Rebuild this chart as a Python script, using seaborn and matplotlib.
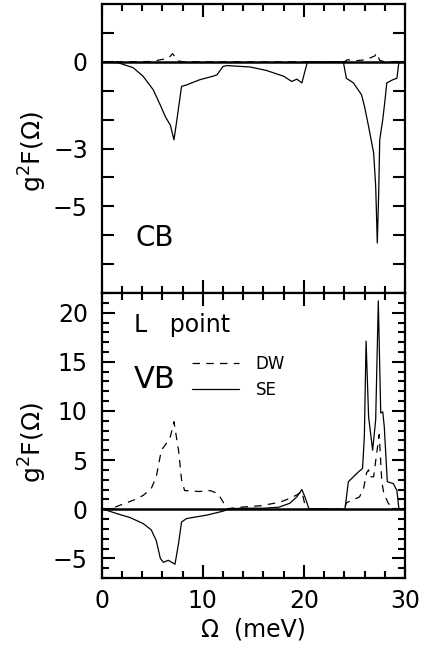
import matplotlib
matplotlib.use("Agg")
import matplotlib.pyplot as plt
import seaborn as sns
from matplotlib.ticker import MultipleLocator, FixedLocator
from matplotlib.lines import Line2D

# ---------------- data ----------------
cb_se_x = [0, 1.6, 3.1, 4.1, 5.1, 5.8, 6.3, 6.8, 7.15, 7.4, 7.9, 8.4, 9.7, 11.0, 11.4, 12.0, 12.4,
           14.7, 16.3, 18.0, 18.8, 19.3, 19.8, 20.1, 20.35, 23.9, 24.2, 24.9, 25.7, 26.0, 26.4,
           26.9, 27.1, 27.26, 27.4, 27.5, 27.8, 28.0, 28.2, 28.8, 29.2, 29.4, 30]
cb_se_y = [0, -0.03, -0.2, -0.5, -0.97, -1.5, -1.9, -2.2, -2.7, -2.1, -0.85, -0.8, -0.62, -0.5, -0.45,
           -0.16, -0.13, -0.18, -0.3, -0.5, -0.68, -0.6, -0.73, -0.33, 0, 0, -0.57, -0.73, -1.14,
           -1.55, -2.24, -3.16, -4.3, -6.27, -4.5, -2.7, -2.0, -1.4, -0.73, -0.62, -0.57, 0, 0]

cb_dw_x = [0, 5.0, 5.8, 6.6, 7.0, 7.2, 7.5, 8.0, 24.0, 24.3, 25.2, 26.1, 27.0, 27.2, 27.5, 28.0, 30]
cb_dw_y = [0, 0.01, 0.07, 0.12, 0.28, 0.2, 0.04, 0, 0, 0.07, 0.04, 0.07, 0.2, 0.3, 0.05, 0, 0]

vb_dw_x = [0, 0.8, 1.8, 3.1, 4.1, 4.9, 5.4, 5.9, 6.4, 6.8, 7.15, 7.6, 7.9, 8.2, 9.7, 10.7, 11.5, 12.0,
           12.4, 13.7, 15.7, 17.6, 18.6, 19.3, 19.8, 20.2, 24.0, 24.2, 25.5, 25.9, 26.2, 26.4, 26.5,
           26.9, 27.2, 27.45, 27.55, 27.7, 27.9, 28.35, 28.8, 29.3, 30]
vb_dw_y = [0, 0, 0.4, 0.9, 1.4, 2.1, 3.3, 6.0, 6.7, 7.4, 8.9, 6.0, 3.0, 1.9, 1.8, 1.9, 1.6, 0.75,
           0.05, 0.2, 0.35, 0.7, 1.1, 1.45, 1.8, 0, 0, 0.65, 1.25, 2.1, 3.7, 4.0, 3.3,
           3.3, 5.7, 7.6, 5.7, 2.9, 1.6, 0.6, 0.1, 0, 0]

vb_se_x = [0, 0.16, 1.5, 2.8, 4.1, 4.9, 5.4, 5.8, 6.1, 6.6, 7.25, 7.6, 7.9, 8.4, 10.4, 12.0, 12.7,
           14.0, 16.0, 17.5, 18.6, 19.3, 19.8, 20.1, 20.5, 24.06, 24.4, 24.9, 25.4, 25.8, 25.98,
           26.15, 26.4, 26.8, 27.1, 27.36, 27.6, 27.8, 27.95, 28.25, 28.85, 29.2, 29.4, 30]
vb_se_y = [0, 0, -0.45, -0.85, -1.46, -2.1, -3.2, -5.0, -5.4, -5.2, -5.6, -3.5, -1.3, -0.95, -0.6,
           -0.2, 0.05, 0.1, 0.1, 0.2, 0.6, 1.25, 2.0, 1.25, 0.05, 0, 2.8, 3.3, 3.8, 4.15, 7.4,
           17.1, 9.4, 6.0, 9.1, 21.2, 9.8, 9.9, 8.4, 2.8, 2.6, 1.9, 0, 0]

x_ticks = [0, 10, 20, 30]
x_minor_ticks = [2, 4, 6, 8, 12, 14, 16, 18, 22, 24, 26, 28]
cb_yticks = [1, 0, -1, -2, -3, -4, -5, -6, -7]
cb_ytick_labels = ["", "0", "", "", "\u22123", "", "\u22125", "", ""]
vb_yticks = [-5, 0, 5, 10, 15, 20]
vb_ytick_labels = ["\u22125", "0", "5", "10", "15", "20"]
series_labels = ["DW", "SE"]

# ---------------- style ----------------
sns.set_style("ticks")
plt.rcParams.update({
    "font.family": ["DejaVu Sans"],
    "mathtext.fontset": "dejavusans",
    "text.color": "black",
    "axes.labelcolor": "black",
    "axes.edgecolor": "black",
    "xtick.color": "black",
    "ytick.color": "black",
})

fig = plt.figure(figsize=(4.26, 6.45), dpi=100)
ax1 = fig.add_axes([0.2387, 0.5457, 0.712, 0.4481])
ax2 = fig.add_axes([0.2387, 0.1039, 0.712, 0.4418])

lw = 0.9
dash = (0, (6, 5))
major_len, minor_len = 9.5, 5

def draw(ax, dx, dy, sx, sy):
    sns.lineplot(x=dx, y=dy, ax=ax, color="black", lw=lw, linestyle=dash, estimator=None, sort=False)
    sns.lineplot(x=sx, y=sy, ax=ax, color="black", lw=lw, estimator=None, sort=False)
    ax.axhline(0, color="black", lw=1.8, zorder=5)

draw(ax1, cb_dw_x, cb_dw_y, cb_se_x, cb_se_y)
draw(ax2, vb_dw_x, vb_dw_y, vb_se_x, vb_se_y)

for ax in (ax1, ax2):
    ax.set_xlim(0, 30)
    for s in ax.spines.values():
        s.set_linewidth(1.6)
        s.set_visible(True)
        s.set_color("black")
    ax.xaxis.set_major_locator(FixedLocator(x_ticks))
    ax.set_xticklabels([str(v) for v in x_ticks])
    ax.tick_params(which="both", direction="in", top=True, bottom=True, left=True, right=True,
                   width=1.5, labelsize=17, color="black")
    ax.tick_params(which="major", length=major_len)
    ax.tick_params(which="minor", length=minor_len)
    ax.tick_params(axis="y", which="both", pad=10)
    ax.tick_params(axis="x", which="both", pad=8)

# top panel
ax1.set_ylim(-8, 2)
ax1.yaxis.set_major_locator(FixedLocator(cb_yticks))
ax1.set_yticklabels(cb_ytick_labels)
ax1.tick_params(axis="y", which="major", length=8.5)
ax1.tick_params(axis="x", labelbottom=False)
ax1.set_xlabel("")
ax1.set_ylabel("g$^2$F(\u03a9)", fontsize=18)
ax1.yaxis.set_label_coords(-0.175, 0.49)
ax1.text(0.11, 0.19, "CB", transform=ax1.transAxes, fontsize=20, va="center", ha="left")

# bottom panel
ax2.set_ylim(-7, 22)
ax2.yaxis.set_major_locator(FixedLocator(vb_yticks))
ax2.set_yticklabels(vb_ytick_labels)
ax2.yaxis.set_minor_locator(MultipleLocator(1))
ax2.tick_params(axis="y", which="minor", length=minor_len, width=1.5, direction="in",
                left=True, right=True)
ax2.set_xlabel("\u03a9  (meV)", fontsize=17, labelpad=3)
ax2.set_ylabel("g$^2$F(\u03a9)", fontsize=18)
ax2.yaxis.set_label_coords(-0.175, 0.475)
ax2.text(0.105, 0.888, "L   point", transform=ax2.transAxes, fontsize=17, va="center", ha="left")
ax2.text(0.105, 0.695, "VB", transform=ax2.transAxes, fontsize=22, va="center", ha="left")

handles = [Line2D([], [], color="black", lw=lw, linestyle=dash),
           Line2D([], [], color="black", lw=lw)]
ax2.legend(handles, series_labels, loc="upper left", bbox_to_anchor=(0.298, 0.782),
           frameon=False, fontsize=12, handlelength=2.8, handletextpad=1.0,
           labelspacing=0.45, borderpad=0, borderaxespad=0)

# minor x ticks (every 2 meV) on bottom and top edges, pointing inward
for ax in (ax1, ax2):
    h_px = ax.get_position().height * fig.get_figheight() * fig.dpi
    frac = minor_len * fig.dpi / 72.0 / h_px
    xt = ax.get_xaxis_transform()
    ax.vlines(x_minor_ticks, 0, frac, transform=xt, colors="black", lw=1.5,
              clip_on=False, zorder=6)
    ax.vlines(x_minor_ticks, 1 - frac, 1, transform=xt, colors="black", lw=1.5,
              clip_on=False, zorder=6)

fig.savefig("out.png", dpi=100)
